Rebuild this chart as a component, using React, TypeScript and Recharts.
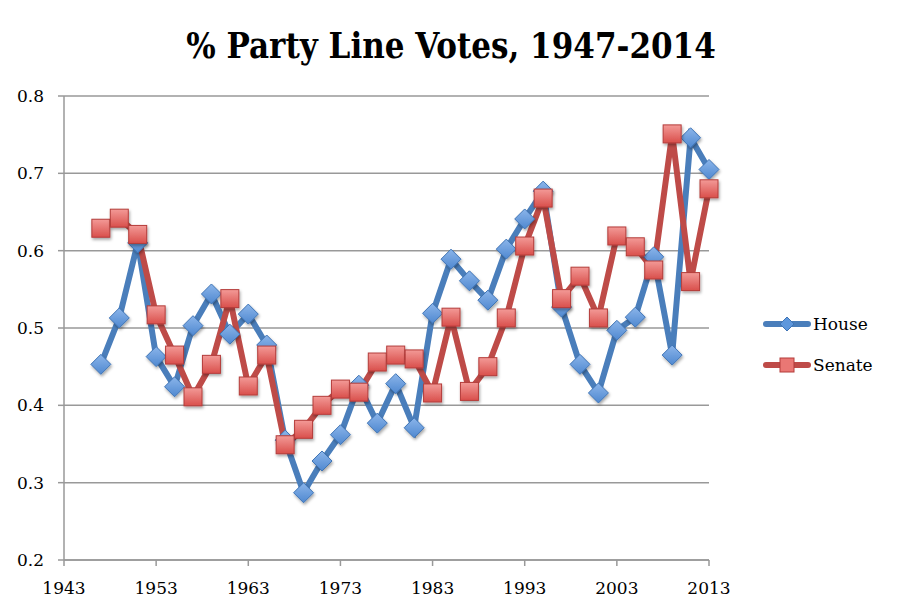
import React from 'react';
import { LineChart, Line, XAxis, YAxis, CartesianGrid } from 'recharts';

const years = [
  1947, 1949, 1951, 1953, 1955, 1957, 1959, 1961, 1963, 1965, 1967, 1969,
  1971, 1973, 1975, 1977, 1979, 1981, 1983, 1985, 1987, 1989, 1991, 1993,
  1995, 1997, 1999, 2001, 2003, 2005, 2007, 2009, 2011, 2013,
];

const house = [
  0.453, 0.513, 0.61, 0.463, 0.424, 0.503, 0.544, 0.492, 0.518, 0.478, 0.355, 0.287,
  0.328, 0.362, 0.426, 0.377, 0.428, 0.371, 0.519, 0.589, 0.561, 0.536, 0.602, 0.641,
  0.677, 0.527, 0.453, 0.416, 0.497, 0.514, 0.592, 0.465, 0.746, 0.705,
];

const senate = [
  0.629, 0.642, 0.621, 0.517, 0.465, 0.411, 0.453, 0.538, 0.425, 0.465, 0.349, 0.369,
  0.4, 0.421, 0.417, 0.456, 0.465, 0.46, 0.416, 0.514, 0.418, 0.45, 0.513, 0.606,
  0.668, 0.538, 0.567, 0.513, 0.619, 0.605, 0.575, 0.751, 0.56, 0.68,
];

const xTicks = [1943, 1953, 1963, 1973, 1983, 1993, 2003, 2013];
const yTicks = [0.2, 0.3, 0.4, 0.5, 0.6, 0.7, 0.8];

const data = years.map((year, i) => ({ year, House: house[i], Senate: senate[i] }));

const BLUE_LINE = '#4a7ebb';
const RED_LINE = '#be4b48';
const SERIF = '"DejaVu Serif", "Liberation Serif", serif';

const Diamond = (props: any) => {
  const { cx, cy } = props;
  if (cx == null || cy == null) return null;
  const r = 10;
  return (
    <polygon
      points={`${cx},${cy - r} ${cx + r},${cy} ${cx},${cy + r} ${cx - r},${cy}`}
      fill="url(#blueFill)"
      stroke="#3f74b5"
      strokeWidth={1}
      filter="url(#shadow)"
    />
  );
};

const Square = (props: any) => {
  const { cx, cy } = props;
  if (cx == null || cy == null) return null;
  const h = 9;
  return (
    <rect
      x={cx - h}
      y={cy - h}
      width={h * 2}
      height={h * 2}
      fill="url(#redFill)"
      stroke="#b43c3a"
      strokeWidth={1}
      filter="url(#shadow)"
    />
  );
};

const legendItems = [
  { name: 'House', color: BLUE_LINE, shape: 'diamond' },
  { name: 'Senate', color: RED_LINE, shape: 'square' },
];

const ChartLegend = () => (
  <div style={{ position: 'absolute', left: 763, top: 303, fontFamily: SERIF, fontSize: 17, color: '#000' }}>
    {legendItems.map((s) => (
      <div key={s.name} style={{ display: 'flex', alignItems: 'center', height: 41 }}>
        <svg width={48} height={20}>
          <line x1={3} y1={10} x2={45} y2={10} stroke={s.color} strokeWidth={6} strokeLinecap="round" />
          {s.shape === 'diamond' ? (
            <polygon points="24,3 31,10 24,17 17,10" fill="#5e97dc" stroke="#3f74b5" />
          ) : (
            <rect x={17} y={3} width={14} height={14} fill="#ea7774" stroke="#b43c3a" />
          )}
        </svg>
        <span style={{ marginLeft: 2 }}>{s.name}</span>
      </div>
    ))}
  </div>
);

export default function App() {
  return (
    <div style={{ position: 'fixed', left: 0, top: 0, width: 902, height: 614, background: '#fff' }}>
      <div
        style={{
          position: 'absolute',
          top: 24,
          left: 0,
          width: 902,
          textAlign: 'center',
          fontFamily: '"DejaVu Serif Condensed", "Liberation Serif", serif',
          fontWeight: 700,
          fontSize: 34.5,
          lineHeight: '44px',
          color: '#000',
        }}
      >
        % Party Line Votes, 1947-2014
      </div>
      <LineChart width={902} height={614} data={data} margin={{ top: 96, right: 193, bottom: 24, left: 0 }}>
        <defs>
          <linearGradient id="blueFill" x1="0" y1="0" x2="0" y2="1">
            <stop offset="0%" stopColor="#8bb5ea" />
            <stop offset="100%" stopColor="#4f88d0" />
          </linearGradient>
          <linearGradient id="redFill" x1="0" y1="0" x2="0" y2="1">
            <stop offset="0%" stopColor="#f39a97" />
            <stop offset="100%" stopColor="#d94f4b" />
          </linearGradient>
          <filter id="shadow" x="-50%" y="-50%" width="200%" height="200%">
            <feDropShadow dx="1" dy="2" stdDeviation="1.5" floodColor="#000" floodOpacity="0.35" />
          </filter>
        </defs>
        <CartesianGrid vertical={false} stroke="#999" strokeWidth={1.5} />
        <XAxis
          dataKey="year"
          type="number"
          domain={[1943, 2013]}
          ticks={xTicks}
          height={30}
          stroke="#999"
          strokeWidth={1.5}
          tickSize={6}
          tick={{ fill: '#000', fontFamily: SERIF, fontSize: 17 }}
          tickMargin={16}
        />
        <YAxis
          type="number"
          domain={[0.2, 0.8]}
          ticks={yTicks}
          width={64}
          stroke="#999"
          strokeWidth={1.5}
          tickSize={6}
          tickFormatter={(v: number) => v.toFixed(1)}
          tick={{ fill: '#000', fontFamily: SERIF, fontSize: 17 }}
          tickMargin={14}
        />
        <Line
          dataKey="House"
          stroke={BLUE_LINE}
          strokeWidth={6}
          dot={<Diamond />}
          activeDot={false}
          isAnimationActive={false}
        />
        <Line
          dataKey="Senate"
          stroke={RED_LINE}
          strokeWidth={6}
          dot={<Square />}
          activeDot={false}
          isAnimationActive={false}
        />
      </LineChart>
      <ChartLegend />
    </div>
  );
}
